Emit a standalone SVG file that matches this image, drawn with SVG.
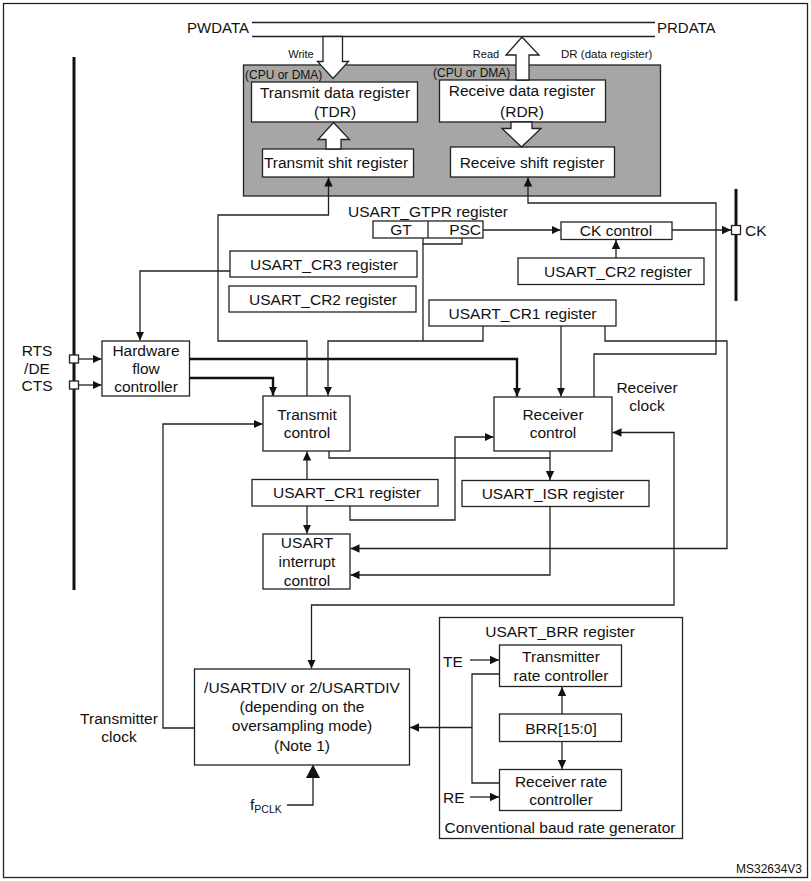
<svg xmlns="http://www.w3.org/2000/svg" width="811" height="881" viewBox="0 0 811 881">
<style>
text{font-family:"Liberation Sans",Arial,sans-serif;fill:#111;}
.t{font-size:15.5px;text-anchor:middle;}
.tl{font-size:15.5px;}
.s{font-size:12px;}
.b{fill:#fff;stroke:#222;stroke-width:1.3;}
.c{fill:none;stroke:#222;stroke-width:1.3;}
.k{fill:none;stroke:#111;stroke-width:2.4;}
.h{fill:#fff;stroke:#222;stroke-width:1.3;}
</style>
<defs>
<marker id="a" markerWidth="10" markerHeight="10" refX="9" refY="5" orient="auto-start-reverse" markerUnits="userSpaceOnUse"><path d="M0,0.8 L9,5 L0,9.2 Z" fill="#111"/></marker>
<marker id="a2" markerWidth="10" markerHeight="10" refX="9" refY="5" orient="auto" markerUnits="userSpaceOnUse"><path d="M0,0.5 L9,5 L0,9.5 Z" fill="#111"/></marker>
</defs>
<rect x="3.5" y="3.5" width="804" height="874" fill="#fff" stroke="#222" stroke-width="1.3"/>
<!-- bus -->
<g id="bus">
<line x1="252" y1="22.5" x2="655" y2="22.5" class="c"/>
<line x1="252" y1="36.5" x2="655" y2="36.5" class="c"/>
<text x="187" y="33" style="font-size:15px">PWDATA</text>
<text x="657" y="33" style="font-size:15px">PRDATA</text>
<text x="301" y="58" class="s" text-anchor="middle" style="font-size:11px">Write</text>
<text x="486" y="58" class="s" text-anchor="middle" style="font-size:11px">Read</text>
<text x="561" y="58" class="s" style="font-size:11.5px">DR (data register)</text>
</g>
<g id="data-block">
<rect x="243.5" y="65" width="417" height="131" fill="#a6a6a6" stroke="#222" stroke-width="1.3"/>
<text x="245" y="79" class="s">(CPU or DMA)</text>
<text x="433" y="77" class="s">(CPU or DMA)</text>
</g>
<g id="tdr"><rect x="251.5" y="82" width="166" height="40" class="b"/>
<text x="335" y="98" class="t">Transmit data register</text><text x="335" y="117" class="t">(TDR)</text></g>
<g id="rdr"><rect x="439.5" y="80" width="166" height="42" class="b"/>
<text x="522" y="96" class="t">Receive data register</text><text x="522" y="117" class="t">(RDR)</text></g>
<g id="tsr"><rect x="262.5" y="149" width="151" height="28" class="b"/>
<text x="336" y="168" class="t">Transmit shit register</text></g>
<g id="rsr"><rect x="450.5" y="147" width="164" height="30" class="b"/>
<text x="532" y="167.5" class="t">Receive shift register</text></g>
<g id="hollow-arrows">
<polygon points="323,36.5 323,61.5 317.5,61.5 333,78.5 348.5,61.5 342.5,61.5 342.5,36.5" class="h"/>
<polygon points="516,80 516,55 506,55 522,37 539,55 529,55 529,80" class="h"/>
<polygon points="326,149 326,139.5 318,139.5 333.5,122.5 349.5,139.5 341,139.5 341,149" class="h"/>
<polygon points="511,122 511,128.5 502,128.5 521.5,147 541,128.5 532,128.5 532,122" class="h"/>
</g>
<!-- left bus bar & CK bar -->
<g id="bars">
<line x1="74" y1="57" x2="74" y2="590" stroke="#111" stroke-width="3"/>
<line x1="736" y1="189" x2="736" y2="301" stroke="#111" stroke-width="3"/>
<rect x="69.5" y="355" width="9" height="8" class="b"/>
<rect x="69.5" y="381" width="9" height="8" class="b"/>
<rect x="731.5" y="225.5" width="9" height="9" class="b"/>
<text x="37" y="356" class="t">RTS</text>
<text x="37" y="374" class="t">/DE</text>
<text x="37" y="391" class="t">CTS</text>
<text x="745" y="236" class="tl">CK</text>
</g>
<g id="gtpr">
<text x="428" y="217" class="t">USART_GTPR register</text>
<rect x="373" y="221" width="110" height="17" class="b"/>
<line x1="428" y1="221" x2="428" y2="238" class="c"/>
<text x="401" y="235" class="t">GT</text>
<text x="481" y="235" class="tl" text-anchor="end">PSC</text>
</g>
<g id="ckctrl"><rect x="561" y="222" width="111" height="17.5" class="b"/><text x="616" y="236" class="t">CK control</text></g>
<g id="cr2r"><rect x="518" y="258" width="186" height="26.5" class="b"/><text x="618" y="276.5" class="t">USART_CR2 register</text></g>
<g id="cr3"><rect x="230" y="251" width="187" height="26" class="b"/><text x="324" y="269.5" class="t">USART_CR3 register</text></g>
<g id="cr2l"><rect x="229" y="286" width="187" height="26" class="b"/><text x="323" y="304.5" class="t">USART_CR2 register</text></g>
<g id="cr1u"><rect x="429" y="300" width="187" height="26" class="b"/><text x="522.5" y="318.5" class="t">USART_CR1 register</text></g>
<g id="hfc"><rect x="102" y="341" width="87.5" height="55" class="b"/>
<text x="146" y="355.5" class="t">Hardware</text><text x="146" y="373.5" class="t">flow</text><text x="146" y="392" class="t">controller</text></g>
<g id="txctrl"><rect x="263" y="396" width="87" height="55" class="b"/>
<text x="307" y="419.5" class="t">Transmit</text><text x="307" y="438" class="t">control</text></g>
<g id="rxctrl"><rect x="494" y="397" width="118" height="54" class="b"/>
<text x="553" y="419.5" class="t">Receiver</text><text x="553" y="438" class="t">control</text></g>
<text x="647" y="392.5" class="t">Receiver</text>
<text x="647" y="410.5" class="t">clock</text>
<g id="cr1l"><rect x="252" y="479.5" width="186" height="26.5" class="b"/><text x="347" y="498" class="t">USART_CR1 register</text></g>
<g id="isr"><rect x="462" y="480.5" width="187" height="26" class="b"/><text x="553" y="499" class="t">USART_ISR register</text></g>
<g id="intctrl"><rect x="263" y="534" width="87" height="55" class="b"/>
<text x="307" y="548" class="t">USART</text><text x="307" y="567" class="t">interrupt</text><text x="307" y="585.5" class="t">control</text></g>
<g id="usartdiv"><rect x="194.5" y="669" width="215" height="96" class="b"/>
<text x="302" y="692.5" class="t">/USARTDIV or 2/USARTDIV</text>
<text x="302" y="712" class="t">(depending on the</text>
<text x="302" y="731" class="t">oversampling mode)</text>
<text x="302" y="751" class="t">(Note 1)</text></g>
<text x="119" y="723.5" class="t">Transmitter</text>
<text x="119" y="742" class="t">clock</text>
<text x="250" y="809.5" class="tl">f<tspan style="font-size:10.5px" dy="3">PCLK</tspan></text>
<g id="brr-group"><rect x="439.5" y="617.5" width="243" height="221" fill="#fff" stroke="#222" stroke-width="1.3"/>
<text x="560" y="636.5" class="t">USART_BRR register</text>
<text x="560" y="833" class="t">Conventional baud rate generator</text>
<text x="443" y="666.5" class="tl">TE</text>
<text x="443" y="802.5" class="tl">RE</text></g>
<g id="txrate"><rect x="499.5" y="645" width="122" height="41.5" class="b"/>
<text x="561" y="661.5" class="t">Transmitter</text><text x="561" y="680.5" class="t">rate controller</text></g>
<g id="brr"><rect x="499.5" y="714" width="122" height="27.5" class="b"/><text x="561" y="733.5" class="t">BRR[15:0]</text></g>
<g id="rxrate"><rect x="499.5" y="769.5" width="122" height="41" class="b"/>
<text x="561" y="786.5" class="t">Receiver rate</text><text x="561" y="804.5" class="t">controller</text></g>
<text x="802" y="872.5" class="s" text-anchor="end">MS32634V3</text>
<g id="connectors">
<path d="M230,271 H140 V340.5" class="c" marker-end="url(#a)"/>
<path d="M78.5,359 H101.5" class="c" marker-end="url(#a)"/>
<path d="M78.5,385 H101.5" class="c" marker-end="url(#a)"/>
<path d="M189.5,359 H517 V396.5" class="k" marker-end="url(#a)"/>
<path d="M189.5,378 H273 V395.5" class="k" marker-end="url(#a)"/>
<path d="M307,396 V341 H218 V215 H328.5 V177.5" class="c" marker-end="url(#a)"/>
<path d="M423,238 V244 H462 V238" class="c"/>
<path d="M423,244 V341" class="c"/>
<path d="M483,326 V341 H328 V395.5" class="c" marker-end="url(#a)"/>
<path d="M561,326 V396.5" class="c" marker-end="url(#a)"/>
<path d="M605,326 V341 H727 V548.5 H350.5" class="c" marker-end="url(#a)"/>
<path d="M594,397 V354 H716 V203 H528 V177.5" class="c" marker-end="url(#a)"/>
<path d="M483,230 H560.5" class="c" marker-end="url(#a)"/>
<path d="M672,230 H731" class="c" marker-end="url(#a)"/>
<path d="M616,258 V240" class="c" marker-end="url(#a)"/>
<path d="M550,451 V480" class="c" marker-end="url(#a)"/>
<path d="M329,451 V458 H550" class="c"/>
<path d="M550,506.5 V575 H350.5" class="c" marker-end="url(#a)"/>
<path d="M307,479.5 V451.5" class="c" marker-end="url(#a)"/>
<path d="M307,506 V533.5" class="c" marker-end="url(#a)"/>
<path d="M350,506 V520 H455 V437 H493.5" class="c" marker-end="url(#a)"/>
<path d="M612.5,432.5 H674 V605 H311.5 V668.5" class="c" marker-start="url(#a)" marker-end="url(#a)"/>
<path d="M194.5,728 H163 V424 H262.5" class="c" marker-end="url(#a)"/>
<path d="M499.5,674 H472 V783 H499.5" class="c"/>
<path d="M472,727.5 H410" class="c" marker-end="url(#a)"/>
<path d="M287,805 H313 V778" class="c" stroke-width="1.6"/>
<polygon points="306,778 313,764.5 320,778" fill="#111"/>
<path d="M470,660 H499" class="c" marker-end="url(#a)"/>
<path d="M470,797 H499" class="c" marker-end="url(#a)"/>
<path d="M562,714 V687" class="c" marker-end="url(#a)"/>
<path d="M562,741.5 V769" class="c" marker-end="url(#a)"/>
</g>
</svg>
